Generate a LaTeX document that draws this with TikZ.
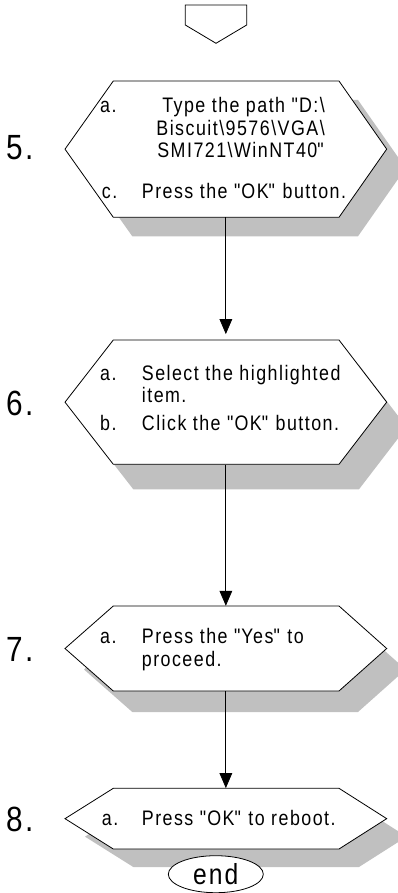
\documentclass[tikz,border=0pt]{standalone}
\usepackage{fontspec}
\setmainfont{Liberation Sans}[FakeStretch=0.85, LetterSpace=7]
\usetikzlibrary{arrows.meta,shapes.geometric}
\definecolor{shadowc}{RGB}{192,192,192}
\tikzset{
  hexbox/.style={rectangle, inner sep=0pt, minimum width=321.7pt},
  txt/.style={inner sep=0pt, anchor=base west, font=\fontsize{21}{22}\selectfont},
  txtr/.style={inner sep=0pt, anchor=base east, font=\fontsize{21}{22}\selectfont},
  num/.style={inner sep=0pt, anchor=base west, font=\fontsize{35}{35}\selectfont},
  arr/.style={line width=0.8pt, -{Triangle[length=15pt,width=12.7pt]}},
  outline/.style={line width=0.8pt, fill=white},
}
\newcommand\qq{\textquotedbl}
% #1 name, #2 top y, #3 bottom y, #4 shadow dx, #5 shadow dy
\newcommand\hexstep[5]{%
  \fill[shadowc] ({65+#4},{(#2+#3)/2+#5}) -- ({113.3+#4},{#2+#5}) -- ({339+#4},{#2+#5})
     -- ({386.7+#4},{(#2+#3)/2+#5}) -- ({339+#4},{#3+#5}) -- ({113.3+#4},{#3+#5}) -- cycle;
  \draw[outline] (65,{(#2+#3)/2}) -- (113.3,#2) -- (339,#2) -- (386.7,{(#2+#3)/2})
     -- (339,#3) -- (113.3,#3) -- cycle;
  \node[hexbox, minimum height={#3-#2}] (#1) at (225.85,{(#2+#3)/2}) {};
}
\begin{document}
\begin{tikzpicture}[x=1pt,y=-1pt]
\useasboundingbox (0,0) rectangle (398,893);
% off-page connector
\draw[outline] (185.3,5) -- (246.7,5) -- (246.7,25) -- (216,43.3) -- (185.3,25) -- cycle;
\coordinate (top) at (216,43.3);

% step 5
\hexstep{s5}{81}{217.3}{19}{19}
\node[num] (n5) at (6,160) {5.};
\node[txt] (l5a) at (100,113) {a.};
\node[txtr] (t5a) at (325,113) {Type the path \qq D:\textbackslash};
\node[txtr] (t5b) at (325,135.5) {Biscuit\textbackslash 9576\textbackslash VGA\textbackslash};
\node[txtr] (t5c) at (325,158) {SMI721\textbackslash WinNT40\qq};
\node[txt] (l5c) at (101.7,199) {c.};
\node[txt] (t5d) at (141.7,199) {Press the \qq OK\qq\ button.};

% step 6
\hexstep{s6}{340}{464.3}{20}{25}
\node[num] (n6) at (6,415) {6.};
\node[txt] (l6a) at (100,380) {a.};
\node[txt] (t6a) at (141.7,380) {Select the highlighted};
\node[txt] (t6b) at (141.7,402) {item.};
\node[txt] (l6b) at (100,430) {b.};
\node[txt] (t6c) at (141.7,430) {Click the \qq OK\qq\ button.};

% step 7
\hexstep{s7}{606}{691}{19}{21}
\node[num] (n7) at (6,661.5) {7.};
\node[txt] (l7a) at (100,643) {a.};
\node[txt] (t7a) at (141.7,643) {Press the \qq Yes\qq\ to};
\node[txt] (t7b) at (141.7,666) {proceed.};

% step 8
\hexstep{s8}{788.3}{849}{20}{18}
\node[num] (n8) at (6,831.5) {8.};
\node[txt] (l8a) at (101.7,825) {a.};
\node[txt] (t8a) at (141.7,825) {Press \qq OK\qq\ to reboot.};

% end
\node[ellipse, draw, line width=0.8pt, fill=white, minimum width=95pt, minimum height=37pt, inner sep=0pt,
      font=\fontsize{29}{29}\selectfont] (end) at (215.8,874.2) {end};

% connectors
\draw[arr, shorten >=5.7pt] (s5.south) -- (s6.north);
\draw[arr] (s6.south) -- (s7.north);
\draw[arr] (s7.south) -- (s8.north);
\end{tikzpicture}
\end{document}
